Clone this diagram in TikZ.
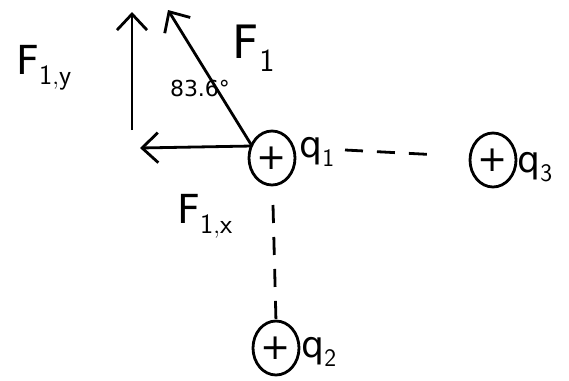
\documentclass[tikz,border=0pt]{standalone}
\usepackage{fontspec}
\setmainfont{DejaVu Sans}
\usetikzlibrary{arrows.meta,shapes.geometric}
\begin{document}
\begin{tikzpicture}[x=1pt,y=-1pt,
  ink/.style={line width=2.8pt,black},
  charge/.style={ellipse,draw,line width=2.8pt,minimum width=46pt,minimum height=54pt,inner sep=0pt,font=\fontsize{36}{36}\selectfont},
  lbl/.style={font=\fontsize{#1}{#1}\selectfont},
  vec/.style={ink,-{Straight Barb[length=16pt,width=30pt,line width=2.8pt]}},
  link/.style={ink,dash pattern=on 18pt off 14pt}]
\useasboundingbox (0,0) rectangle (569,380);
\node[charge] (q1) at (272,158) {+};
\node[charge] (q3) at (493,160) {+};
\node[charge] (q2) at (276,348) {+};
\node[lbl=36,anchor=west] (l1) at (296,152) {q$_{\mathsf{1}}$};
\node[lbl=36,anchor=west] (l3) at (514,167) {q$_{\mathsf{3}}$};
\node[lbl=36,anchor=west] (l2) at (298,352) {q$_{\mathsf{2}}$};
\coordinate (o) at (252,146);
\coordinate (tip) at (168,10);
\coordinate (xtip) at (140,148);
\coordinate (ybase) at (132,130);
\coordinate (ytip) at (132,12);
\coordinate (d1) at (345,150);
\coordinate (d3) at (440,155);
\coordinate (v1) at (273,205);
\coordinate (v2) at (276,322);
\draw[vec] (o) -- (tip);
\draw[vec] (o) -- (xtip);
\draw[vec] (ybase) -- (ytip);
\draw[link] (d1) -- (d3);
\draw[link] (v1) -- (v2);
\node[lbl=46] (f1) at (254,48) {F$_{\mathsf 1}$};
\node[lbl=40] (fy) at (44,68) {F$_{\mathsf{1,y}}$};
\node[lbl=40] (fx) at (205,216) {F$_{\mathsf{1,x}}$};
\node[lbl=22] (ang) at (200,88) {83.6°};
\end{tikzpicture}
\end{document}
